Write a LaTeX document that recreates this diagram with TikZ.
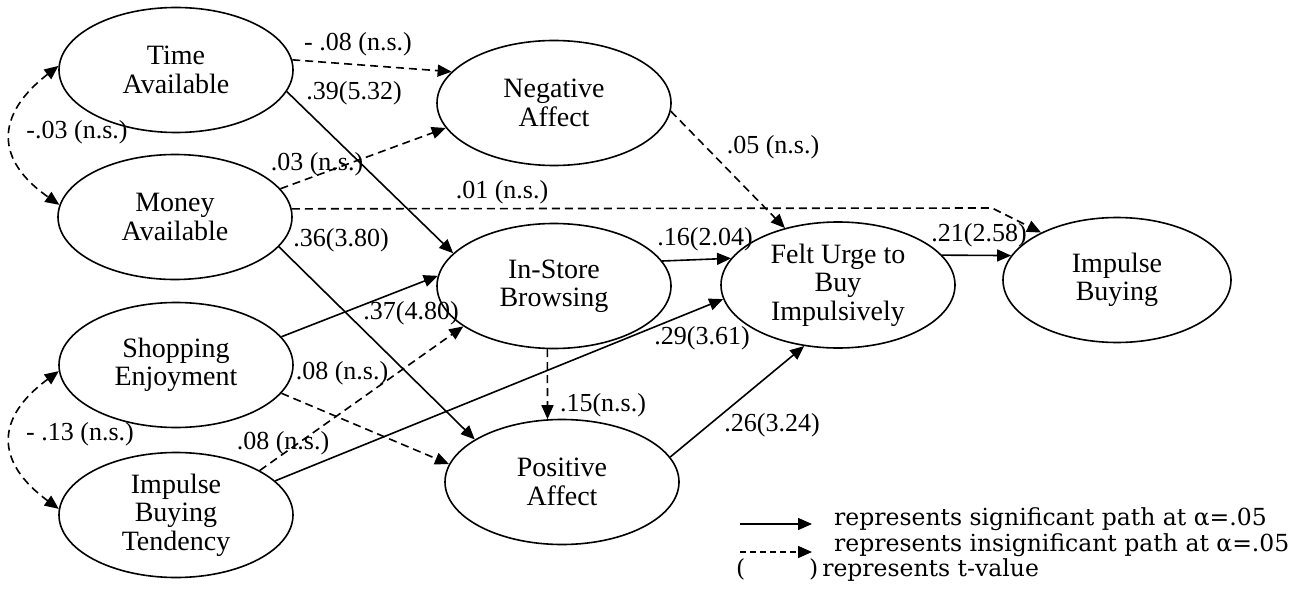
\documentclass[tikz,border=0pt]{standalone}
\usepackage{fontspec}
\setmainfont{Liberation Serif}
\newfontfamily\legfont{DejaVu Serif}
\usetikzlibrary{shapes.geometric,arrows.meta}
\begin{document}
\begin{tikzpicture}[x=1pt,y=1pt,
  >={Triangle[length=14pt,width=12pt]},
  ell/.style={ellipse, draw, line width=1.6pt, minimum width=234pt, minimum height=125pt, inner sep=0pt, align=center, font=\fontsize{28}{28.5}\selectfont},
  sig/.style={line width=1.6pt, ->},
  ns/.style={sig, dash pattern=on 8pt off 5pt},
  lab/.style={inner sep=0pt, font=\fontsize{26}{27}\selectfont},
  leg/.style={inner sep=0pt, font=\legfont\fontsize{23.5}{25}\selectfont}]
\useasboundingbox (0,0) rectangle (1311,-591);
% nodes
\node[ell] (time) at (176,-70) {Time\\Available};
\node[ell] (money) at (175,-217) {Money\\Available};
\node[ell] (shop) at (176,-365) {Shopping\\Enjoyment};
\node[ell] (tend) at (176,-515) {Impulse\\Buying\\Tendency};
\node[ell] (neg) at (554,-103) {Negative\\Affect};
\node[ell] (instore) at (554,-286) {In-Store\\Browsing};
\node[ell] (pos) at (562,-482) {Positive\\Affect};
\node[ell, minimum height=126pt] (felt) at (838,-285) {Felt Urge to\\Buy\\Impulsively};
\node[ell, minimum width=228pt] (ib) at (1117,-280) {Impulse\\Buying};
\coordinate (mbend) at (992,-208);
% edges
\draw[ns] (time.5) -- (neg.163.5);
\draw[sig] (time.-11) -- (instore.162);
\draw[ns] (money.15.7) -- (neg.-167.4);
\draw[ns] (money.4.4) -- (mbend) -- (ib.148);
\draw[sig] (money.-16) -- (pos.154.4);
\draw[sig] (shop.15.8) -- (instore.175.5);
\draw[ns] (shop.-15.2) -- (pos.171.6);
\draw[ns] (tend.28.9) -- (instore.-156.6);
\draw[sig] (tend.19) -- (felt.-173.3);
\draw[sig] (instore.13.8) -- (felt.166.4);
\draw[ns] (instore.-96.4) -- (pos.103);
\draw[ns] (neg.-4.5) -- (felt.133.5);
\draw[sig] (felt.16.4) -- (ib.167.4);
\draw[sig] (pos.13.7) -- (felt.-119.7);
\draw[ns,<->] (time.178) .. controls (-5,-115) and (-5,-160) .. (money.174);
\draw[ns,<->] (shop.183) .. controls (-5,-418) and (-5,-462) .. (tend.177);
% labels
\node[lab] (l1) at (358,-44) {- .08 (n.s.)};
\node[lab] (l2) at (354,-93) {.39(5.32)};
\node[lab] (l3) at (77,-132) {-.03 (n.s.)};
\node[lab] (l4) at (317,-164) {.03 (n.s.)};
\node[lab] (l5) at (341,-240) {.36(3.80)};
\node[lab] (l6) at (502,-192) {.01 (n.s.)};
\node[lab] (l7) at (773,-147) {.05 (n.s.)};
\node[lab] (l8) at (705,-239) {.16(2.04)};
\node[lab] (l9) at (979,-235) {.21(2.58)};
\node[lab] (l10) at (411,-313) {.37(4.80)};
\node[lab] (l11) at (342,-373) {.08 (n.s.)};
\node[lab] (l12) at (80,-434) {- .13 (n.s.)};
\node[lab] (l13) at (283,-443) {.08 (n.s.)};
\node[lab] (l14) at (702,-338) {.29(3.61)};
\node[lab] (l15) at (603,-405) {.15(n.s.)};
\node[lab] (l16) at (772,-425) {.26(3.24)};
% legend
\coordinate (g1s) at (740,-524);
\coordinate (g1e) at (812,-524);
\coordinate (g2s) at (740,-552);
\coordinate (g2e) at (812,-552);
\draw[sig] (g1s) -- (g1e);
\draw[ns, dash pattern=on 6pt off 4pt] (g2s) -- (g2e);
\node[leg, anchor=base west] (t1) at (834,-525) {represents significant path at α=.05};
\node[leg, anchor=base west] (t2) at (834,-551) {represents insignificant path at α=.05};
\node[leg, anchor=base west] (t3a) at (736,-576) {(};
\node[leg, anchor=base west] (t3b) at (809,-576) {)\,represents t-value};
\end{tikzpicture}
\end{document}
